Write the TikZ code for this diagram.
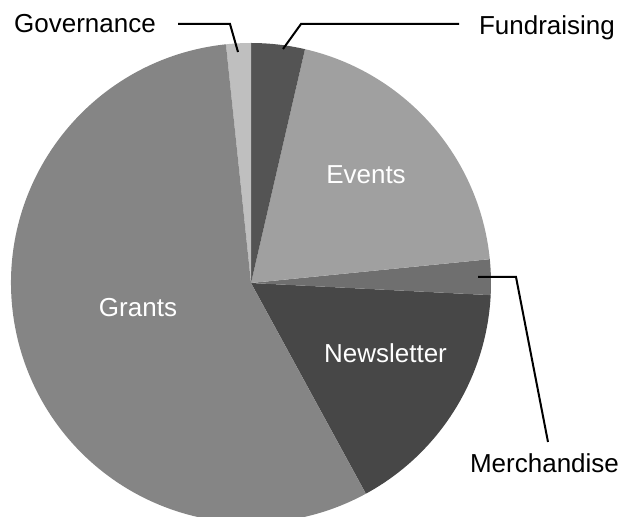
\documentclass[tikz,border=0pt]{standalone}
\usepackage{fontspec}
\setmainfont{Liberation Sans}
\begin{document}
\begin{tikzpicture}[x=1pt,y=1pt,
  lbl/.style={anchor=base,inner sep=0pt,font=\fontsize{26}{30}\selectfont},
  inlbl/.style={lbl,text=white},
  leader/.style={draw=black,line width=2pt,line join=miter}]
\definecolor{cgov}{HTML}{BFBFBF}
\definecolor{cfund}{HTML}{545454}
\definecolor{cevt}{HTML}{A0A0A0}
\definecolor{cmer}{HTML}{6F6F6F}
\definecolor{cnews}{HTML}{474747}
\definecolor{cgr}{HTML}{858585}
\useasboundingbox (0,0) rectangle (622,517);
\clip (0,0) rectangle (622,517);
\coordinate (c) at (251,234);
\def\R{240}
\fill[cnews] (c) -- ++(-61.4:\R) arc[start angle=-61.4,end angle=-2.9,radius=\R] -- cycle;
\fill[cmer] (c) -- ++(-2.9:\R) arc[start angle=-2.9,end angle=5.7,radius=\R] -- cycle;
\fill[cevt] (c) -- ++(5.7:\R) arc[start angle=5.7,end angle=77,radius=\R] -- cycle;
\fill[cfund] (c) -- ++(77:\R) arc[start angle=77,end angle=90,radius=\R] -- cycle;
\fill[cgov] (c) -- ++(90:\R) arc[start angle=90,end angle=96,radius=\R] -- cycle;
\fill[cgr] (c) -- ++(96:\R) arc[start angle=96,end angle=298.6,radius=\R] -- cycle;
% labels
\node[lbl] (gov) at (85,484.7) {Governance};
\node[lbl] (fund) at (547,482) {Fundraising};
\node[lbl] (mer) at (544.5,44) {Merchandise};
\node[inlbl] (evt) at (366,333) {Events};
\node[inlbl] (gr) at (138,200) {Grants};
\node[inlbl] (news) at (385.5,154) {Newsletter};
% leader points
\coordinate (govS) at (178,493);
\coordinate (govB) at (230,493);
\coordinate (govE) at (238,465);
\coordinate (fundS) at (459,493);
\coordinate (fundB) at (301,493);
\coordinate (fundE) at (283,468);
\coordinate (merS) at (548,75);
\coordinate (merB) at (516,240);
\coordinate (merE) at (478,240);
\draw[leader] (govS) -- (govB) -- (govE);
\draw[leader] (fundS) -- (fundB) -- (fundE);
\draw[leader] (merS) -- (merB) -- (merE);
\end{tikzpicture}
\end{document}
